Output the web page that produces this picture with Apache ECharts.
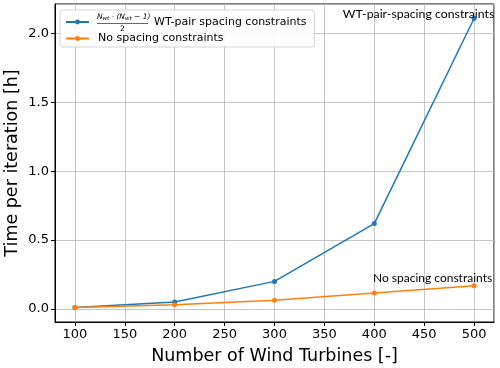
<!DOCTYPE html>
<html>
<head>
<meta charset="utf-8">
<script src="https://cdn.jsdelivr.net/npm/echarts@6/dist/echarts.min.js"></script>
<style>
  html, body { margin: 0; padding: 0; background: #fff; }
  #chart { width: 500px; height: 368px; }
</style>
</head>
<body>
<div id="chart"></div>
<script>
// wind turbine counts
const turbines = [100, 200, 300, 400, 500];
// time per iteration [h]
const pairConstraints = [0.01, 0.05, 0.20, 0.62, 2.11];
const noConstraints = [0.01, 0.03, 0.063, 0.116, 0.169];

const pairName = 'WT-pair spacing constraints';
const noName = 'No spacing constraints';
const blue = '#1f77b4';
const orange = '#ff7f0e';
const axisFont = 'DejaVu Sans';

let chart = echarts.init(document.getElementById('chart'));

function toPairs(xs, ys) {
    let result = [];
    for (let i = 0; i < xs.length; i++) {
        result[i] = [xs[i], ys[i]];
    }
    return result;
}

function annotation(text, coord, offset, size) {
    return {
        symbol: 'circle',
        symbolSize: 0,
        silent: true,
        data: [{
            coord: coord,
            label: {
                show: true,
                position: 'inside',
                offset: offset,
                formatter: text,
                color: '#000',
                fontFamily: 'Lato',
                fontSize: size
            }
        }]
    };
}

let option = {
    animation: false,
    backgroundColor: '#fff',
    grid: {
        left: 55, right: 6, top: 4, bottom: 46,
        outerBoundsMode: 'none',
        containLabel: false,
        show: true, borderColor: '#000', borderWidth: 1
    },
    legend: {
        left: 60, top: 10,
        orient: 'vertical',
        padding: [6, 8, 3, 5],
        itemWidth: 23, itemHeight: 6, itemGap: 5,
        backgroundColor: 'rgba(255,255,255,0.85)',
        borderColor: '#d4d4d4', borderWidth: 1, borderRadius: 3,
        data: [pairName, noName],
        formatter: function (name) {
            if (name === pairName) {
                return '{gap|}{t|' + name + '}';
            }
            return '{t|' + name + '}';
        },
        textStyle: {
            padding: [0, 0, 0, 4],
            rich: {
                gap: { width: 56 },
                t: { fontFamily: axisFont, fontSize: 11, color: '#000', lineHeight: 14 }
            }
        }
    },
    xAxis: {
        type: 'value',
        min: 80, max: 520,
        splitNumber: 9, minInterval: 50, maxInterval: 50,
        name: 'Number of Wind Turbines [-]',
        nameLocation: 'middle', nameGap: 25, nameMoveOverlap: false,
        nameTextStyle: { fontFamily: axisFont, fontSize: 17.5, color: '#000' },
        axisLine: { show: true, onZero: false, lineStyle: { color: '#000' } },
        axisTick: { show: true, length: 4, lineStyle: { color: '#000' } },
        axisLabel: {
            fontFamily: axisFont, fontSize: 13, color: '#000', margin: 6,
            showMinLabel: false, showMaxLabel: false
        },
        splitLine: { show: true, lineStyle: { color: '#b8b8b8', width: 0.8 } }
    },
    yAxis: {
        type: 'value',
        min: -0.095, max: 2.215,
        splitNumber: 5, minInterval: 0.5, maxInterval: 0.5,
        name: 'Time per iteration [h]',
        nameLocation: 'middle', nameGap: 34, nameMoveOverlap: false,
        nameTextStyle: { fontFamily: axisFont, fontSize: 17.5, color: '#000' },
        axisLine: { show: true, onZero: false, lineStyle: { color: '#000' } },
        axisTick: { show: true, length: 4, lineStyle: { color: '#000' } },
        axisLabel: {
            fontFamily: axisFont, fontSize: 13, color: '#000', margin: 6,
            showMinLabel: false, showMaxLabel: false,
            formatter: function (v) { return v.toFixed(1); }
        },
        splitLine: { show: true, lineStyle: { color: '#b8b8b8', width: 0.8 } }
    },
    series: [
        {
            name: pairName,
            type: 'line',
            data: toPairs(turbines, pairConstraints),
            color: blue,
            symbol: 'circle', symbolSize: 5,
            lineStyle: { width: 1.5 },
            markPoint: annotation('WT-pair-spacing constraints', [500, 2.11], [-55.5, -4.5], 12.3)
        },
        {
            name: noName,
            type: 'line',
            data: toPairs(turbines, noConstraints),
            color: orange,
            symbol: 'circle', symbolSize: 5,
            lineStyle: { width: 1.5 },
            markPoint: annotation('No spacing constraints', [500, 0.169], [-41.5, -7.7], 12)
        }
    ],
    graphic: [
        {
            type: 'text', left: 97, top: 13, z: 100,
            style: {
                text: '{i|N}{s|wt}{i| · (}{i|N}{s|wt}{i| − 1)}',
                rich: {
                    i: { fontFamily: axisFont, fontSize: 7.5, fontStyle: 'italic', lineHeight: 10, verticalAlign: 'middle' },
                    s: { fontFamily: axisFont, fontSize: 5.5, fontStyle: 'italic', lineHeight: 10, verticalAlign: 'bottom' }
                }
            }
        },
        {
            type: 'line', z: 100,
            shape: { x1: 97, y1: 23.5, x2: 148, y2: 23.5 },
            style: { stroke: '#000', lineWidth: 0.6 }
        },
        {
            type: 'text', left: 120, top: 25, z: 100,
            style: { text: '2', fontFamily: axisFont, fontSize: 7.5, fill: '#000' }
        }
    ]
};

chart.setOption(option);
</script>
</body>
</html>
